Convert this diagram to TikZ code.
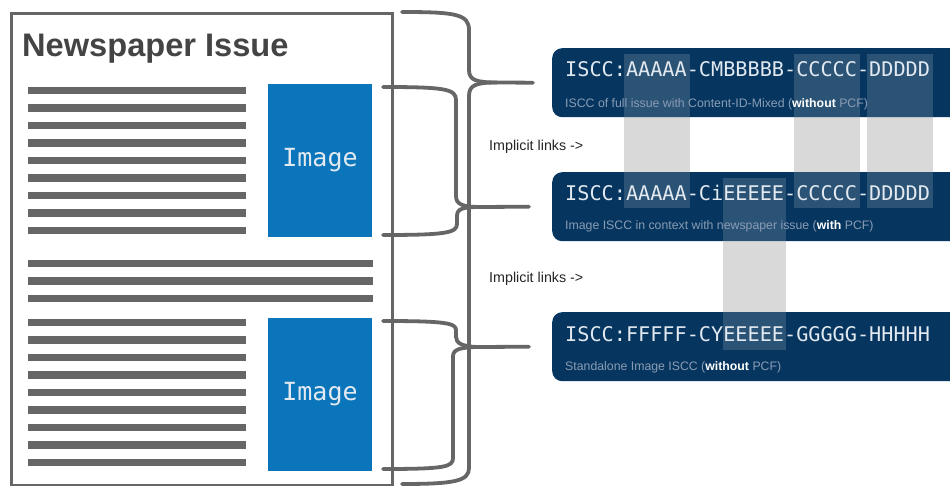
\documentclass[tikz,border=0pt]{standalone}
\usepackage{fontspec}
\setmainfont{Liberation Sans}
\newfontfamily\monofont{DejaVu Sans Mono}
\usetikzlibrary{calc}
\definecolor{navy}{HTML}{06365F}
\definecolor{imgblue}{HTML}{0A75BB}
\definecolor{linegray}{HTML}{666666}
\definecolor{titlegray}{HTML}{444444}
\definecolor{subgray}{HTML}{8A9CB4}
\definecolor{hlgray}{HTML}{D9D9D9}
\definecolor{isccwhite}{HTML}{E2E9F0}
\begin{document}
\begin{tikzpicture}[x=1pt,y=-1pt,
  textline/.style={draw=linegray,line width=7.5pt},
  imgbox/.style={fill=imgblue,draw=none,inner sep=0pt,minimum width=104pt,minimum height=153pt,
    text=isccwhite,font=\monofont\fontsize{25}{25}\selectfont},
  isccbox/.style={fill=navy,draw=none,rounded corners=10pt,inner sep=0pt,minimum width=408pt,minimum height=69pt,anchor=north west},
  iscctext/.style={anchor=base west,inner sep=0pt,text=isccwhite,font=\monofont\fontsize{20.2}{20}\selectfont},
  subtext/.style={anchor=base west,inner sep=0pt,text=subgray,font=\fontsize{12.3}{12}\selectfont},
  linktext/.style={anchor=base west,inner sep=0pt,text=black!85,font=\fontsize{14.3}{14}\selectfont},
  hlover/.style={fill=white,fill opacity=0.15,draw=none},
  bracepath/.style={draw=linegray,line width=3.8pt,line cap=round},
]
\useasboundingbox (0,0) rectangle (950,486);
\clip (0,0) rectangle (950,486);
\fill[white] (0,0) rectangle (950,486);

% newspaper page
\node[draw=linegray,line width=3pt,minimum width=381pt,minimum height=472pt,anchor=north west,inner sep=0pt] (page) at (10,12) {};
\node[anchor=base west,inner sep=0pt,text=titlegray,font=\bfseries\fontsize{32.6}{32}\selectfont] (title) at (22,56.5) {Newspaper Issue};

% text lines
\foreach \i in {0,...,8} {
  \draw[textline] (28,{90.7+17.5*\i}) -- (246,{90.7+17.5*\i});
  \draw[textline] (28,{322.7+17.45*\i}) -- (246,{322.7+17.45*\i});
}
\foreach \yy in {263.3,281,298.5} {
  \draw[textline] (28,\yy) -- (372.7,\yy);
}

% images
\node[imgbox] (img1) at (320,160.5) {Image};
\node[imgbox] (img2) at (320,394.5) {Image};

% gray link columns (behind boxes)
\fill[hlgray] (624,100) rectangle (690,190);
\fill[hlgray] (794,100) rectangle (860,190);
\fill[hlgray] (867,100) rectangle (933,190);
\fill[hlgray] (723,225) rectangle (786,330);

% ISCC boxes
\node[isccbox] (b1) at (552,48) {};
\node[isccbox] (b2) at (552,172) {};
\node[isccbox] (b3) at (552,312) {};

% overlays inside boxes
\fill[hlover] (624,54) rectangle (690,117);
\fill[hlover] (794,54) rectangle (860,117);
\fill[hlover] (867,54) rectangle (933,117);
\fill[hlover] (624,172) rectangle (690,208);
\fill[hlover] (794,172) rectangle (860,208);
\fill[hlover] (867,172) rectangle (933,208);
\fill[hlover] (723,178) rectangle (786,242);
\fill[hlover] (723,312) rectangle (786,350);

% texts in boxes
\node[iscctext] (c1) at ([shift={(13,29)}]b1.north west) {ISCC:AAAAA-CMBBBBB-CCCCC-DDDDD};
\node[subtext] (s1) at ([shift={(13,60)}]b1.north west) {ISCC of full issue with Content-ID-Mixed (\textcolor{white}{\bfseries without} PCF)};
\node[iscctext] (c2) at ([shift={(13,29)}]b2.north west) {ISCC:AAAAA-CiEEEEE-CCCCC-DDDDD};
\node[subtext] (s2) at ([shift={(13,58)}]b2.north west) {Image ISCC in context with newspaper issue (\textcolor{white}{\bfseries with} PCF)};
\node[iscctext] (c3) at ([shift={(13,29)}]b3.north west) {ISCC:FFFFF-CYEEEEE-GGGGG-HHHHH};
\node[subtext] (s3) at ([shift={(13,58)}]b3.north west) {Standalone Image ISCC (\textcolor{white}{\bfseries without} PCF)};

% implicit links labels
\node[linktext] (l1) at (489,151) {Implicit links ->};
\node[linktext] (l2) at (489,283) {Implicit links ->};

% brace tips
\coordinate (t1) at ([xshift=-19pt]b1.west);
\coordinate (t2) at ([xshift=-23pt]b2.west);
\coordinate (t3) at ([xshift=-23pt]b3.west);

% brace 1: whole page
\draw[bracepath] (402,12) .. controls (455,12) and (469,14) .. (469,30) -- (469,70)
  .. controls (469,80) and (476,82.5) .. (497,82.5) -- (t1);
\draw[bracepath] (497,82.5) .. controls (476,82.5) and (469,85) .. (469,96) -- (469,468)
  .. controls (469,481) and (455,484) .. (402,484);

% brace 2: top image
\draw[bracepath] (383,87) .. controls (445,87) and (456,89) .. (456,100) -- (456,196)
  .. controls (456,204) and (462,207) .. (480,207) -- (t2);
\draw[bracepath] (480,207) .. controls (462,207) and (457,209) .. (457,216) -- (457,224)
  .. controls (457,233) and (445,235) .. (383,235);

% brace 3: bottom image
\draw[bracepath] (383,321) .. controls (445,321) and (456,323) .. (456,330) -- (456,337)
  .. controls (456,343) and (462,347) .. (480,347) -- (t3);
\draw[bracepath] (480,347) .. controls (462,347) and (453,349) .. (453,356) -- (453,458)
  .. controls (453,467) and (445,469) .. (383,469);
\end{tikzpicture}
\end{document}
